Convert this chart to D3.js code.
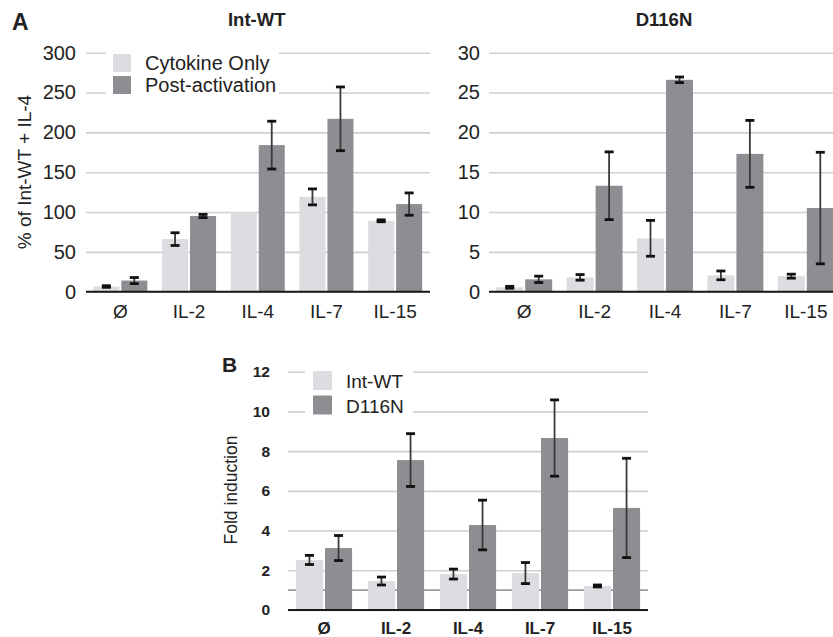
<!DOCTYPE html>
<html lang="en">
<head>
  <meta charset="UTF-8">
  <title>Cytokine bars</title>
  <script src="https://d3js.org/d3.v7.min.js"></script>
  <style>
    body { margin: 0; background: #fff; }
    text { font-family: "Liberation Sans", Arial, Helvetica, sans-serif; fill: #222; }
  </style>
</head>
<body>
  <script>
    var categories = ["Ø", "IL-2", "IL-4", "IL-7", "IL-15"];

    // panel A, Int-WT (% of Int-WT + IL-4)
    var wtCytokine    = [6.5, 66, 100, 119, 89];
    var wtCytokineErr = [1, 8, 0, 10, 1.2];
    var wtPost        = [14, 95, 184, 217, 110];
    var wtPostErr     = [3.8, 2, 30, 40, 14];

    // panel A, D116N
    var d116Cytokine    = [0.55, 1.8, 6.7, 2.05, 1.95];
    var d116CytokineErr = [0.12, 0.35, 2.25, 0.55, 0.25];
    var d116Post        = [1.55, 13.3, 26.6, 17.3, 10.5];
    var d116PostErr     = [0.4, 4.25, 0.35, 4.2, 7];

    // panel B, fold induction
    var foldWT       = [2.52, 1.46, 1.81, 1.86, 1.21];
    var foldWTErr    = [0.23, 0.2, 0.25, 0.53, 0.05];
    var foldD116N    = [3.12, 7.55, 4.28, 8.66, 5.14];
    var foldD116NErr = [0.63, 1.33, 1.25, 1.92, 2.5];

    var ticksA1 = [0, 50, 100, 150, 200, 250, 300];
    var ticksA2 = [0, 5, 10, 15, 20, 25, 30];
    var ticksB  = [0, 2, 4, 6, 8, 10, 12];

    var light = "#dcdde0";
    var dark = "#8d8e92";

    var w = 833, h = 637;

    var svg = d3.select("body")
                .append("svg")
                .attr("width", w)
                .attr("height", h);

    function panel(opt) {
      var x0 = d3.scaleBand()
                 .domain(categories)
                 .range([opt.left, opt.right])
                 .paddingInner(opt.pad)
                 .paddingOuter(opt.pad / 2);
      var x1 = d3.scaleBand()
                 .domain([0, 1])
                 .range([0, x0.bandwidth()])
                 .paddingInner(0.07);
      var y = d3.scaleLinear()
                .domain([0, d3.max(opt.ticks)])
                .range([opt.bottom, opt.top]);

      var g = svg.append("g");

      // grid + tick labels
      var yAxis = d3.axisLeft(y)
                    .tickValues(opt.ticks)
                    .tickSize(-(opt.gridRight - opt.left))
                    .tickPadding(opt.tickPad);
      var ya = g.append("g")
                .attr("transform", "translate(" + opt.left + ",0)")
                .call(yAxis);
      ya.select(".domain").remove();
      ya.selectAll("line")
        .attr("stroke", "#cfcfcf")
        .attr("stroke-width", 1.6);
      ya.selectAll("text")
        .attr("font-size", opt.tickFont)
        .attr("font-weight", opt.tickWeight)
        .attr("fill", "#222");

      // legend backdrop hides the grid
      g.append("rect")
       .attr("x", opt.legend.bx).attr("y", opt.legend.by)
       .attr("width", opt.legend.bw).attr("height", opt.legend.bh)
       .attr("fill", "#fff");

      if (opt.refLine != null) {
        g.append("line")
         .attr("x1", opt.left).attr("x2", opt.gridRight)
         .attr("y1", y(opt.refLine)).attr("y2", y(opt.refLine))
         .attr("stroke", "#9c9c9c")
         .attr("stroke-width", 1.8);
      }

      var rows = categories.map(function(c, i) {
        return [
          { cat: c, k: 0, v: opt.series[0][i], e: opt.errs[0][i] },
          { cat: c, k: 1, v: opt.series[1][i], e: opt.errs[1][i] }
        ];
      });
      var flat = d3.merge(rows);

      g.selectAll("rect.bar")
       .data(flat)
       .enter()
       .append("rect")
       .attr("class", "bar")
       .attr("x", function(d) { return x0(d.cat) + x1(d.k); })
       .attr("width", x1.bandwidth())
       .attr("y", function(d) { return y(d.v); })
       .attr("height", function(d) { return y(0) - y(d.v); })
       .attr("fill", function(d) { return d.k === 0 ? light : dark; });

      // baseline
      var xAxis = d3.axisBottom(x0).tickSize(0).tickPadding(opt.xPad);
      var xa = g.append("g")
                .attr("transform", "translate(0," + opt.bottom + ")")
                .call(xAxis);
      xa.select(".domain")
        .attr("d", "M" + opt.left + ",0H" + opt.gridRight)
        .attr("stroke", "#1a1a1a")
        .attr("stroke-width", 2);
      xa.selectAll("text")
        .attr("font-size", opt.xFont)
        .attr("font-weight", opt.xWeight)
        .attr("fill", "#222");

      // error bars
      var eb = g.selectAll("g.err")
                .data(flat.filter(function(d) { return d.e > 0; }))
                .enter()
                .append("g")
                .attr("class", "err")
                .attr("transform", function(d) {
                  return "translate(" + (x0(d.cat) + x1(d.k) + x1.bandwidth() / 2) + ",0)";
                });
      eb.append("line")
        .attr("y1", function(d) { return y(d.v + d.e); })
        .attr("y2", function(d) { return y(d.v - d.e); })
        .attr("stroke", "#3a3a3a")
        .attr("stroke-width", 1.8);
      eb.append("line")
        .attr("x1", -4.5).attr("x2", 4.5)
        .attr("y1", function(d) { return y(d.v + d.e); })
        .attr("y2", function(d) { return y(d.v + d.e); })
        .attr("stroke", "#111")
        .attr("stroke-width", 2.8);
      eb.append("line")
        .attr("x1", -4.5).attr("x2", 4.5)
        .attr("y1", function(d) { return y(d.v - d.e); })
        .attr("y2", function(d) { return y(d.v - d.e); })
        .attr("stroke", "#111")
        .attr("stroke-width", 2.8);

      // legend
      if (opt.legend.labels) {
        var lg = g.selectAll("g.leg")
                  .data(opt.legend.labels)
                  .enter()
                  .append("g")
                  .attr("class", "leg");
        lg.append("rect")
          .attr("x", opt.legend.x)
          .attr("y", function(d, i) { return opt.legend.y + i * opt.legend.step; })
          .attr("width", opt.legend.size)
          .attr("height", opt.legend.size)
          .attr("fill", function(d, i) { return i === 0 ? light : dark; });
        lg.append("text")
          .attr("x", opt.legend.tx)
          .attr("y", function(d, i) { return opt.legend.y + i * opt.legend.step + opt.legend.size - 2; })
          .attr("font-size", opt.legend.font)
          .text(function(d) { return d; });
      }

      if (opt.title) {
        g.append("text")
         .attr("x", (opt.left + Math.min(opt.right, w)) / 2 + opt.titleShift)
         .attr("y", 26)
         .attr("text-anchor", "middle")
         .attr("font-size", 18.5)
         .attr("font-weight", "bold")
         .text(opt.title);
      }

      if (opt.yTitle) {
        g.append("text")
         .attr("transform", "translate(" + opt.yTitle.x + "," + opt.yTitle.y + ") rotate(-90)")
         .attr("text-anchor", "middle")
         .attr("font-size", opt.yTitle.font)
         .text(opt.yTitle.text);
      }
    }

    panel({
      left: 86, right: 429.5, gridRight: 430, pad: 0.214,
      top: 52.7, bottom: 291.7, ticks: ticksA1,
      tickPad: 10, tickFont: 20, tickWeight: "normal",
      xPad: 13, xFont: 19, xWeight: "normal",
      series: [wtCytokine, wtPost], errs: [wtCytokineErr, wtPostErr],
      legend: { bx: 106, by: 44, bw: 173, bh: 58,
                labels: ["Cytokine Only", "Post-activation"],
                x: 113, y: 54, step: 22, size: 18, tx: 145, font: 20 },
      title: "Int-WT", titleShift: -1,
      yTitle: { text: "% of Int-WT + IL-4", x: 31, y: 172, font: 19 }
    });

    panel({
      left: 489, right: 841, gridRight: 833, pad: 0.205,
      top: 52.7, bottom: 291.7, ticks: ticksA2,
      tickPad: 9, tickFont: 20, tickWeight: "normal",
      xPad: 13, xFont: 19, xWeight: "normal",
      series: [d116Cytokine, d116Post], errs: [d116CytokineErr, d116PostErr],
      legend: { bx: 0, by: 0, bw: 0, bh: 0 },
      title: "D116N", titleShift: 3
    });

    panel({
      left: 288, right: 648, gridRight: 648, pad: 0.22,
      top: 371.7, bottom: 610, ticks: ticksB,
      tickPad: 18, tickFont: 15.5, tickWeight: "bold",
      xPad: 12, xFont: 17, xWeight: "bold",
      refLine: 1,
      series: [foldWT, foldD116N], errs: [foldWTErr, foldD116NErr],
      legend: { bx: 305, by: 362, bw: 108, bh: 58,
                labels: ["Int-WT", "D116N"],
                x: 313, y: 371, step: 24.5, size: 19, tx: 346, font: 19 },
      yTitle: { text: "Fold induction", x: 237, y: 490, font: 17.5 }
    });

    svg.append("text")
       .attr("x", 12).attr("y", 30)
       .attr("font-size", 23).attr("font-weight", "bold")
       .text("A");

    svg.append("text")
       .attr("x", 222).attr("y", 372)
       .attr("font-size", 21).attr("font-weight", "bold")
       .text("B");
  </script>
</body>
</html>
